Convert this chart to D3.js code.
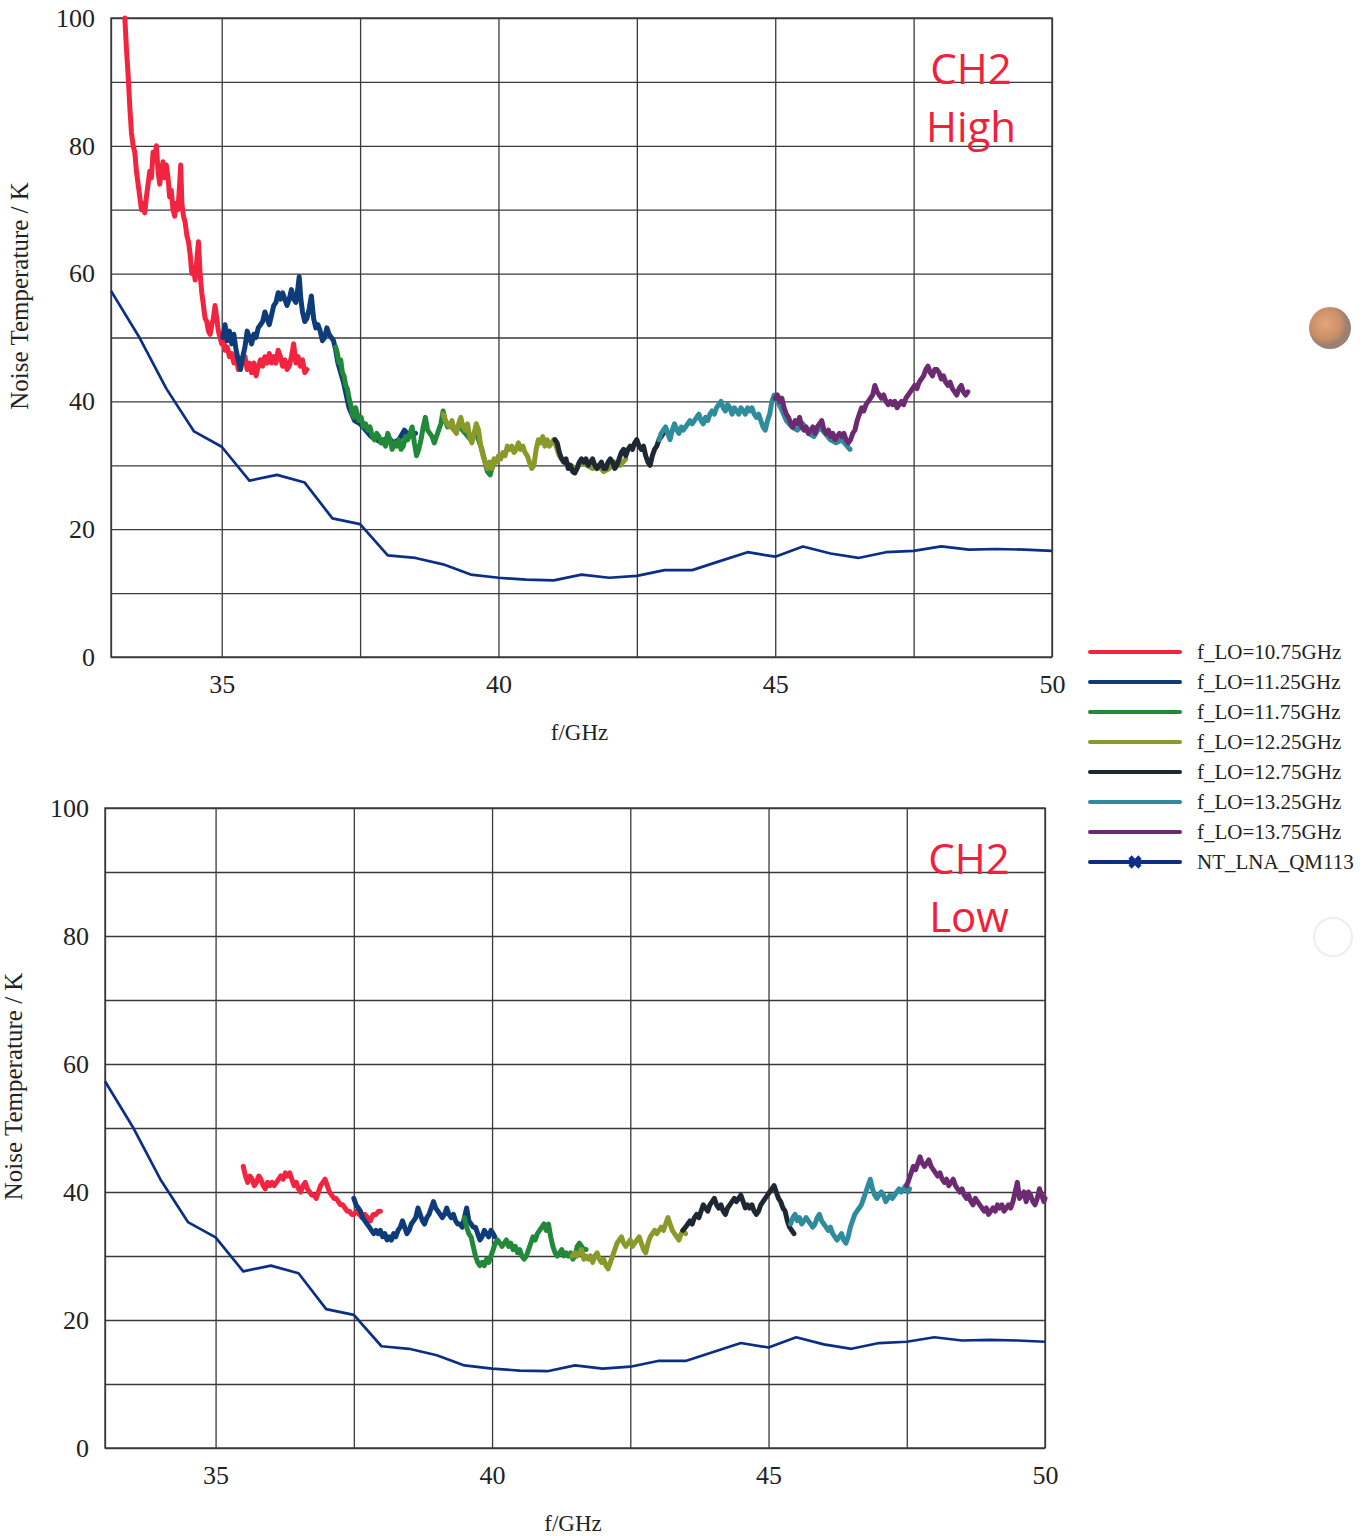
<!DOCTYPE html>
<html>
<head>
<meta charset="utf-8">
<script src="https://cdn.jsdelivr.net/npm/d3@7"></script>
<style>
  body { margin: 0; background: #fff; }
  svg { display: block; }
  .grid line { stroke: #3a3a3a; stroke-width: 1.3; }
  .grid path { display: none; }
  .tick text { font-family: "Liberation Serif", "Times New Roman", serif; fill: #222; }
</style>
</head>
<body>
<script>
var svgWidth = 1372;
var svgHeight = 1536;

// axis ticks
var gridFreq = [33, 35, 37.5, 40, 42.5, 45, 47.5, 50];
var labelFreq = [35, 40, 45, 50];
var gridTemp = [0, 10, 20, 30, 40, 50, 60, 70, 80, 90, 100];
var labelTemp = [0, 20, 40, 60, 80, 100];

var seriesNames = ["f_LO=10.75GHz", "f_LO=11.25GHz", "f_LO=11.75GHz", "f_LO=12.25GHz",
                   "f_LO=12.75GHz", "f_LO=13.25GHz", "f_LO=13.75GHz"];
var refName = "NT_LNA_QM113";
var seriesColors = ["#f3243f", "#0e3c78", "#22883a", "#8a9a2a", "#1e2833", "#2f8c9c", "#6c2a72"];
var refColor = "#0b2f84";

// LNA reference noise temperature [f GHz, K] (same in both panels)
var lnaRef = [[33,57.3],[33.5,50.2],[34,42],[34.5,35.3],[35,32.9],[35.5,27.6],[36,28.5],[36.5,27.3],
  [37,21.7],[37.5,20.8],[38,15.9],[38.5,15.5],[39,14.5],[39.5,12.9],[40,12.4],[40.5,12.1],[41,12.0],
  [41.5,12.9],[42,12.4],[42.5,12.7],[43,13.6],[43.5,13.6],[44,15.0],[44.5,16.4],[45,15.7],[45.5,17.3],
  [46,16.2],[46.5,15.5],[47,16.4],[47.5,16.6],[48,17.3],[48.5,16.8],[49,16.9],[49.5,16.8],[50,16.6]];

// ---- CH2 High ----
var hiLo1075 = [[33.25,100],[33.28,95],[33.31,91],[33.34,86],[33.37,82],[33.40,80],[33.43,79],[33.46,76],[33.49,74],
  [33.52,72],[33.55,70],[33.58,71],[33.61,69.5],[33.64,72],[33.67,74],[33.70,76],[33.73,75],[33.76,79],[33.79,78],
  [33.82,80],[33.85,76],[33.88,74],[33.91,76],[33.94,77.5],[33.97,75],[34.00,77],[34.03,75],[34.06,72],[34.09,73],
  [34.12,70],[34.15,69],[34.18,71],[34.21,70],[34.24,74],[34.26,77],[34.28,71],[34.31,69],[34.34,68],[34.37,66],
  [34.40,65],[34.43,63],[34.46,60],[34.49,61],[34.52,59],[34.55,62],[34.58,65],[34.61,60],[34.64,57],[34.67,55],
  [34.70,53],[34.73,52.5],[34.76,51],[34.79,50.5],[34.82,52],[34.85,53],[34.88,55],[34.91,53],[34.94,51],[34.97,50],
  [35.00,49],[35.03,50],[35.06,48],[35.10,48.5],[35.14,47],[35.18,47.5],[35.22,46],[35.26,47],[35.30,45],[35.34,46.5],
  [35.38,46],[35.42,47],[35.46,45],[35.50,46],[35.54,44.5],[35.58,46],[35.62,44],[35.66,45.5],[35.70,46.5],[35.74,45.5],
  [35.78,47],[35.82,46],[35.86,47.5],[35.90,46],[35.94,47],[35.98,46],[36.02,48],[36.06,47],[36.10,45.5],[36.14,46.5],
  [36.18,45],[36.22,45.5],[36.26,47],[36.30,49],[36.34,46],[36.38,47],[36.42,45.5],[36.46,46.5],[36.50,44.5],[36.54,45]];
var hiLo1125 = [[35.02,50],[35.06,52],[35.10,49.5],[35.14,51],[35.18,49],[35.22,50.5],[35.26,48],[35.30,46.5],[35.34,45],
  [35.38,47],[35.42,48.5],[35.46,51],[35.50,50],[35.54,49],[35.58,50.5],[35.62,50],[35.66,51.5],[35.70,52],[35.74,52.5],
  [35.78,54],[35.82,53],[35.86,52],[35.90,53.5],[35.94,55],[35.98,55.5],[36.02,57],[36.06,56],[36.10,57],[36.14,56],
  [36.18,55],[36.22,56],[36.26,57.5],[36.30,56],[36.34,55.5],[36.38,58],[36.40,59.5],[36.43,56],[36.46,54],[36.50,52.5],
  [36.54,53],[36.58,54.5],[36.62,56.5],[36.66,53],[36.70,51.5],[36.74,52],[36.78,51],[36.82,49.5],[36.86,50],[36.90,51.5],
  [36.94,50.5],[36.98,50],[37.02,49.5],[37.06,48],[37.10,46],[37.20,43],[37.30,39],[37.40,37],[37.50,36.5],[37.60,35.5],
  [37.70,34.5],[37.80,34],[37.90,33.5],[38.00,34.5],[38.10,33.5],[38.20,34],[38.30,35.5],[38.40,34.5],[38.50,35]];
var hiLo1175 = [[37.06,48.5],[37.09,47.5],[37.12,46],[37.15,46.5],[37.18,44.5],[37.21,44],[37.24,42.5],[37.27,42],
  [37.30,40.5],[37.33,39.5],[37.36,38],[37.39,37.5],[37.42,39],[37.45,38],[37.48,37],[37.52,37.5],[37.56,36],[37.60,36.5],
  [37.64,35.5],[37.68,36],[37.72,34.5],[37.76,34],[37.80,35],[37.84,34.5],[37.88,33.5],[37.92,34],[37.96,33],[38.00,35],
  [38.04,34],[38.08,32.5],[38.12,33.5],[38.16,33],[38.20,34],[38.24,32.5],[38.28,33],[38.32,34.5],[38.36,34],[38.40,35],
  [38.44,36],[38.48,33.5],[38.52,31.5],[38.56,32.5],[38.60,34],[38.64,36],[38.68,37.5],[38.72,35.5],[38.76,35],[38.80,34.5],
  [38.84,33.5],[38.88,34.5],[38.92,35.5],[38.96,36.5],[39.00,38.5],[39.04,37],[39.08,36],[39.12,36.5],[39.20,35.5],
  [39.30,36],[39.40,35],[39.50,34],[39.60,35],[39.70,32.5],[39.80,29],[39.85,28.5],[39.90,30]];
var hiLo1225 = [[39.00,38],[39.04,37],[39.08,36.5],[39.12,36],[39.16,37],[39.20,35.5],[39.24,35],[39.28,36.5],[39.32,37.5],
  [39.36,36],[39.40,35.5],[39.44,36.5],[39.48,34.5],[39.52,33.5],[39.56,35],[39.60,36.5],[39.64,35.5],[39.68,33],[39.72,31.5],
  [39.76,30.5],[39.80,29.5],[39.84,30.5],[39.88,29.5],[39.92,31],[39.96,30.5],[40.00,31.5],[40.04,31],[40.08,32],[40.12,31.5],
  [40.16,33],[40.20,32.5],[40.24,33],[40.28,32],[40.32,32.5],[40.36,33.5],[40.40,32.5],[40.44,33],[40.48,32],[40.52,31.5],
  [40.56,30.5],[40.60,29.5],[40.64,30],[40.68,32.5],[40.72,34],[40.76,33.5],[40.80,34.5],[40.84,33],[40.88,34],[40.92,33],
  [40.96,33.5],[41.00,34],[41.10,31.5],[41.20,30.5],[41.30,30],[41.40,29.5],[41.50,30.5],[41.60,30],[41.70,29.5],
  [41.80,30],[41.90,29],[42.00,29.5],[42.10,30.5],[42.20,30],[42.30,31]];
var hiLo1275 = [[41.02,34],[41.06,33.5],[41.10,32],[41.14,31],[41.18,30.5],[41.22,31],[41.26,29.5],[41.30,30],[41.34,29],
  [41.38,28.8],[41.42,29.5],[41.46,30.5],[41.50,31],[41.54,30.5],[41.58,31],[41.62,30],[41.66,30.5],[41.70,31],[41.74,30],
  [41.78,29.5],[41.82,30],[41.86,30.5],[41.90,29.5],[41.94,29.5],[41.98,30.5],[42.02,31],[42.06,30.5],[42.10,29.5],
  [42.14,30],[42.18,31],[42.22,32],[42.26,32.5],[42.30,31.5],[42.34,32.5],[42.38,33],[42.42,32.5],[42.46,33.5],[42.50,34],
  [42.54,33],[42.58,32.5],[42.62,33],[42.66,31.5],[42.70,30.5],[42.74,30],[42.78,31.5],[42.82,32.5],[42.86,33],[42.90,34],
  [42.94,34.5],[42.98,35]];
var hiLo1325 = [[42.90,34],[42.94,35],[42.98,35.5],[43.02,36],[43.06,35],[43.10,34],[43.14,35.5],[43.18,36.5],[43.22,35.5],
  [43.26,35],[43.30,36],[43.34,35.5],[43.38,36],[43.42,36.5],[43.46,37],[43.50,36.5],[43.54,37],[43.58,37.5],[43.62,38],
  [43.66,37],[43.70,36.5],[43.74,37.5],[43.78,37],[43.82,38],[43.86,38.5],[43.90,38],[43.94,39],[43.98,39.5],[44.02,40],
  [44.06,39],[44.10,38.5],[44.14,39.5],[44.18,39],[44.22,38],[44.26,39],[44.30,38.5],[44.34,38],[44.38,39],[44.42,38.5],
  [44.46,38],[44.50,39],[44.54,38.5],[44.58,39],[44.62,38],[44.66,37.5],[44.70,38],[44.74,37],[44.78,36],[44.82,35.5],
  [44.86,37],[44.90,38],[44.94,40],[44.98,41],[45.10,39],[45.20,37],[45.30,36],[45.40,35.5],[45.50,36.5],[45.60,35],
  [45.70,34.5],[45.80,36],[45.90,35],[46.00,34],[46.10,33.5],[46.20,34],[46.30,33],[46.35,32.5]];
var hiLo1375 = [[45.00,40.5],[45.04,41],[45.08,40],[45.12,40.5],[45.16,39],[45.20,38],[45.24,37.5],[45.28,36.5],[45.32,36],
  [45.36,37],[45.40,36.5],[45.44,37.5],[45.48,36],[45.52,35.5],[45.56,36],[45.60,35],[45.64,35.5],[45.68,36],[45.72,35],
  [45.76,36],[45.80,36.5],[45.84,37],[45.88,35.5],[45.92,35],[45.96,35.5],[46.00,34.5],[46.04,35],[46.08,34],[46.12,34.5],
  [46.16,35],[46.20,34.5],[46.24,35],[46.28,34],[46.32,33.5],[46.36,34],[46.40,35],[46.44,35.5],[46.48,37],[46.52,38],
  [46.56,39],[46.60,38.5],[46.64,39.5],[46.68,40],[46.72,40.5],[46.76,41],[46.80,42.5],[46.84,41.5],[46.88,41],[46.92,40.5],
  [46.96,41],[47.00,40],[47.04,39.5],[47.08,40],[47.12,39.5],[47.16,40],[47.20,39],[47.24,39.5],[47.28,40],[47.32,39.5],
  [47.36,40.5],[47.40,41],[47.44,41.5],[47.48,42],[47.52,42.5],[47.56,42],[47.60,43],[47.64,43.5],[47.68,44],[47.72,45],
  [47.76,45.5],[47.80,44.5],[47.84,44],[47.88,45],[47.92,45],[47.96,44.5],[48.00,43.5],[48.04,44],[48.08,43],[48.12,42.5],
  [48.16,43],[48.20,42],[48.24,41.5],[48.28,41],[48.32,42],[48.36,42.5],[48.40,41.5],[48.44,41],[48.48,41.5]];

// ---- CH2 Low ----
var loLo1075 = [[35.50,44],[35.54,42.5],[35.58,41.5],[35.62,42.5],[35.66,42],[35.70,41],[35.74,41.5],[35.78,42.5],[35.82,42],
  [35.86,41],[35.90,40.5],[35.94,41.5],[35.98,41],[36.02,41.5],[36.06,41],[36.10,41.5],[36.14,42],[36.18,42.5],[36.22,42],
  [36.26,43],[36.30,42.5],[36.34,43],[36.38,42],[36.42,41],[36.46,41.5],[36.50,40.5],[36.54,40],[36.58,41],[36.62,41.5],
  [36.66,40.5],[36.70,40],[36.74,39.5],[36.78,39.5],[36.82,39],[36.86,40],[36.90,41],[36.94,41.5],[36.98,42],[37.02,41],
  [37.06,40],[37.10,39.5],[37.14,39],[37.18,39],[37.22,38.5],[37.26,38],[37.30,38],[37.34,37.5],[37.38,37],[37.42,37],
  [37.46,36.5],[37.50,36.5],[37.55,37],[37.60,36.5],[37.65,36],[37.70,36.5],[37.75,36],[37.80,35.5],[37.85,36.5],
  [37.90,36.5],[37.95,37],[37.98,37]];
var loLo1125 = [[37.50,39],[37.54,38],[37.58,37.5],[37.62,37],[37.66,36],[37.70,35.5],[37.74,35],[37.78,34.5],[37.82,34],
  [37.86,33.5],[37.90,34],[37.94,33.5],[37.98,34],[38.02,33],[38.06,33.5],[38.10,32.5],[38.14,33],[38.18,32.5],[38.22,33.5],
  [38.26,33],[38.30,34],[38.34,34.5],[38.38,35.5],[38.42,34.5],[38.46,33.5],[38.50,34],[38.54,35],[38.58,35.5],[38.62,36],
  [38.66,37.5],[38.70,36.5],[38.74,35.5],[38.78,35],[38.82,36],[38.86,36.5],[38.90,37.5],[38.94,38.5],[38.98,37.5],
  [39.02,37],[39.06,36.5],[39.10,36],[39.14,36.5],[39.18,37.5],[39.22,36.5],[39.26,36],[39.30,36.5],[39.34,35.5],[39.38,35],
  [39.42,35],[39.46,34.5],[39.50,36],[39.54,37.5],[39.58,35.5],[39.62,35],[39.66,34.5],[39.70,34.5],[39.74,33.5],
  [39.78,32.5],[39.82,33],[39.86,34],[39.90,33.5],[39.94,33],[39.98,34],[40.02,33.5],[40.05,33]];
var loLo1175 = [[39.50,36],[39.54,34.5],[39.58,33.5],[39.62,33],[39.66,31.5],[39.70,30],[39.74,29],[39.78,28.5],[39.82,29],
  [39.86,28.5],[39.90,29.5],[39.94,29],[39.98,30],[40.02,31],[40.06,32],[40.10,32.5],[40.14,32],[40.18,31.5],[40.22,32],
  [40.26,32.5],[40.30,31.5],[40.34,32],[40.38,31],[40.42,31.5],[40.46,30.5],[40.50,31],[40.54,30],[40.58,29.5],[40.62,30],
  [40.66,31],[40.70,32],[40.74,33],[40.78,32.5],[40.82,33.5],[40.86,34],[40.90,34.5],[40.94,35],[40.98,34],[41.02,35],
  [41.06,33],[41.10,31.5],[41.14,30.5],[41.18,30],[41.22,30.5],[41.26,31],[41.30,30],[41.34,30.5],[41.38,30],[41.42,30.5],
  [41.46,29.5],[41.50,30],[41.54,31.5],[41.58,32],[41.62,31.5],[41.66,31],[41.70,31]];
var loLo1225 = [[41.45,30],[41.50,30.5],[41.54,30],[41.58,30.5],[41.62,31],[41.66,29.5],[41.70,30],[41.74,29.5],[41.78,30],
  [41.82,29],[41.86,30],[41.90,30.5],[41.94,29.5],[41.98,29],[42.02,29.5],[42.06,28.5],[42.10,28],[42.14,29],[42.18,30],
  [42.22,31],[42.26,32],[42.30,32.5],[42.34,33],[42.38,32],[42.42,31.5],[42.46,32],[42.50,32.5],[42.54,31.5],[42.58,32],
  [42.62,32.5],[42.66,33],[42.70,32],[42.74,31],[42.78,30.5],[42.82,32],[42.86,33],[42.90,33.5],[42.94,34],[42.98,33.5],
  [43.02,34],[43.06,34.5],[43.10,34],[43.14,35],[43.18,36],[43.22,35],[43.26,34],[43.30,33.5],[43.34,33],[43.38,32.5],
  [43.42,33.5],[43.46,34],[43.50,33.5]];
var loLo1275 = [[43.45,34],[43.50,34.5],[43.54,35],[43.58,35.5],[43.62,35],[43.66,36],[43.70,36.5],[43.74,36],[43.78,37],
  [43.82,38],[43.86,37.5],[43.90,37],[43.94,38],[43.98,38.5],[44.02,39],[44.06,38],[44.10,37.5],[44.14,38],[44.18,37],
  [44.22,36.5],[44.26,37.5],[44.30,38],[44.34,38.5],[44.38,39],[44.42,38.5],[44.46,39],[44.50,39.5],[44.54,38.5],[44.58,37.5],
  [44.62,38],[44.66,37.5],[44.70,38],[44.74,37],[44.78,36.5],[44.82,37],[44.86,38],[44.90,38.5],[44.94,39],[44.98,39.5],
  [45.02,40],[45.06,40.5],[45.10,41],[45.14,40],[45.18,39],[45.22,38.5],[45.26,37.5],[45.30,37],[45.34,35.5],[45.38,34.5],
  [45.42,34],[45.46,33.5]];
var loLo1325 = [[45.40,35],[45.44,36],[45.48,36.5],[45.52,35.5],[45.56,36],[45.60,35],[45.64,35.5],[45.68,36],[45.72,35.5],
  [45.76,35],[45.80,34.5],[45.84,35],[45.88,36],[45.92,36.5],[45.96,35.5],[46.00,35],[46.04,34.5],[46.08,34],[46.12,34.5],
  [46.16,33.5],[46.20,33],[46.24,32.5],[46.28,33],[46.32,33.5],[46.36,32.5],[46.40,32],[46.44,33],[46.48,34.5],[46.52,35.5],
  [46.56,36.5],[46.60,37],[46.64,37.5],[46.68,38],[46.72,39],[46.76,40],[46.80,41],[46.84,42],[46.88,40.5],[46.92,39.5],
  [46.96,39],[47.00,39.5],[47.04,40],[47.08,39.5],[47.12,38.5],[47.16,39],[47.20,39.5],[47.24,39],[47.28,39.5],[47.32,40],
  [47.36,40.5],[47.40,40],[47.44,40.5],[47.48,41],[47.52,40],[47.55,40.5]];
var loLo1375 = [[47.50,41],[47.54,42],[47.58,43],[47.62,44],[47.66,43.5],[47.70,44.5],[47.74,45.5],[47.78,44.5],[47.82,44],
  [47.86,44.5],[47.90,45],[47.94,44],[47.98,43.5],[48.02,43],[48.06,42.5],[48.10,43],[48.14,42],[48.18,41.5],[48.22,42],
  [48.26,41],[48.30,41.5],[48.34,42],[48.38,41],[48.42,40.5],[48.46,40],[48.50,40.5],[48.54,39.5],[48.58,39],[48.62,39.5],
  [48.66,38.5],[48.70,38],[48.74,39],[48.78,38.5],[48.82,38],[48.86,37.5],[48.90,37],[48.94,37.5],[48.98,36.5],[49.02,37],
  [49.06,37.5],[49.10,37],[49.14,38],[49.18,37.5],[49.22,38],[49.26,37],[49.30,37.5],[49.34,38],[49.38,37.5],[49.42,38.5],
  [49.46,40],[49.50,41.5],[49.54,39],[49.58,39.5],[49.62,40],[49.66,38.5],[49.70,40],[49.74,39.5],[49.78,38.5],[49.82,38],
  [49.86,39],[49.90,40.5],[49.94,39.5],[49.98,38.5],[50.00,39]];

var highSeries = [hiLo1075, hiLo1125, hiLo1175, hiLo1225, hiLo1275, hiLo1325, hiLo1375];
var lowSeries = [loLo1075, loLo1125, loLo1175, loLo1225, loLo1275, loLo1325, loLo1375];

var svg = d3.select("body")
  .append("svg")
  .attr("width", svgWidth)
  .attr("height", svgHeight);

function drawPanel(box, series, tag) {
  var x = d3.scaleLinear().domain([33, 50]).range([box.left, box.right]);
  var y = d3.scaleLinear().domain([0, 100]).range([box.bottom, box.top]);
  var h = box.bottom - box.top;
  var w = box.right - box.left;

  var g = svg.append("g");

  // grid
  g.append("g")
    .attr("class", "grid")
    .attr("transform", "translate(0," + box.bottom + ")")
    .call(d3.axisBottom(x).tickValues(gridFreq).tickSize(-h).tickFormat(""));
  g.append("g")
    .attr("class", "grid")
    .attr("transform", "translate(" + box.left + ",0)")
    .call(d3.axisLeft(y).tickValues(gridTemp).tickSize(-w).tickFormat(""));
  g.append("rect")
    .attr("x", box.left).attr("y", box.top)
    .attr("width", w).attr("height", h)
    .attr("fill", "none").attr("stroke", "#3a3a3a").attr("stroke-width", 1.4);

  // tick labels
  var xl = g.append("g")
    .attr("transform", "translate(0," + box.bottom + ")")
    .call(d3.axisBottom(x).tickValues(labelFreq).tickSize(0).tickPadding(18).tickFormat(d3.format("d")));
  xl.select(".domain").remove();
  xl.selectAll("text").style("font-size", "26px");

  var yl = g.append("g")
    .attr("transform", "translate(" + box.left + ",0)")
    .call(d3.axisLeft(y).tickValues(labelTemp).tickSize(0).tickPadding(box.ypad).tickFormat(d3.format("d")));
  yl.select(".domain").remove();
  yl.selectAll("text").style("font-size", "26px");

  // axis titles
  g.append("text")
    .attr("x", (box.left + box.right) / 2 - 2)
    .attr("y", box.bottom + 83)
    .attr("text-anchor", "middle")
    .style("font-family", "Liberation Serif, serif")
    .style("font-size", "23px")
    .attr("fill", "#222")
    .text("f/GHz");
  g.append("text")
    .attr("transform", "translate(" + (box.left - 83) + "," + (box.top + h * 0.435) + ") rotate(-90)")
    .attr("text-anchor", "middle")
    .style("font-family", "Liberation Serif, serif")
    .style("font-size", "25px")
    .attr("fill", "#222")
    .text("Noise Temperature / K");

  var line = d3.line().x(function(d) { return x(d[0]); }).y(function(d) { return y(d[1]); });

  // LNA reference
  g.append("path")
    .datum(lnaRef)
    .attr("d", line)
    .attr("fill", "none")
    .attr("stroke", refColor)
    .attr("stroke-width", 2.7)
    .attr("stroke-linejoin", "round");

  // measured noisy curves
  series.forEach(function(s, i) {
    g.append("path")
      .datum(s)
      .attr("d", line)
      .attr("fill", "none")
      .attr("stroke", seriesColors[i])
      .attr("stroke-width", 5)
      .attr("stroke-linejoin", "round")
      .attr("stroke-linecap", "round");
  });

  // annotation
  var ann = g.append("text")
    .attr("text-anchor", "middle")
    .style("font-family", "Open Sans, Noto Sans, sans-serif")
    .style("font-size", "42px")
    .attr("fill", "#f2203a");
  ann.append("tspan").attr("x", box.annX).attr("y", box.top + 66).text("CH2");
  ann.append("tspan").attr("x", box.annX).attr("y", box.top + 124).text(tag);
}

drawPanel({left: 111, right: 1052, top: 18, bottom: 657, ypad: 16, annX: 971}, highSeries, "High");
drawPanel({left: 105, right: 1045, top: 808, bottom: 1448, ypad: 16, annX: 969}, lowSeries, "Low");

// legend
var legend = svg.append("g").attr("transform", "translate(1090,652)");
var legendItems = seriesNames.concat([refName]);
legendItems.forEach(function(name, i) {
  var row = legend.append("g").attr("transform", "translate(0," + (i * 30) + ")");
  var col = i < seriesNames.length ? seriesColors[i] : refColor;
  row.append("line")
    .attr("x1", 0).attr("x2", 90).attr("y1", 0).attr("y2", 0)
    .attr("stroke", col).attr("stroke-width", 4).attr("stroke-linecap", "round");
  if (i === seriesNames.length) {
    row.append("path")
      .attr("d", d3.symbol().type(d3.symbolCross).size(110))
      .attr("transform", "translate(45,0) rotate(45)")
      .attr("fill", col);
  }
  row.append("text")
    .attr("x", 107).attr("y", 7)
    .style("font-family", "Liberation Serif, serif")
    .style("font-size", "21px")
    .attr("fill", "#222")
    .text(name);
});

// stray marks on the scanned page
var defs = svg.append("defs");
var grad = defs.append("radialGradient").attr("id", "dot").attr("cx", "40%").attr("cy", "40%");
grad.append("stop").attr("offset", "0%").attr("stop-color", "#e4a57a");
grad.append("stop").attr("offset", "75%").attr("stop-color", "#c98e68");
grad.append("stop").attr("offset", "100%").attr("stop-color", "#9c8070");
svg.append("circle").attr("cx", 1330).attr("cy", 328).attr("r", 21).attr("fill", "url(#dot)");
svg.append("circle").attr("cx", 1333).attr("cy", 937).attr("r", 19)
  .attr("fill", "none").attr("stroke", "#eeeeee").attr("stroke-width", 2);
</script>
</body>
</html>
